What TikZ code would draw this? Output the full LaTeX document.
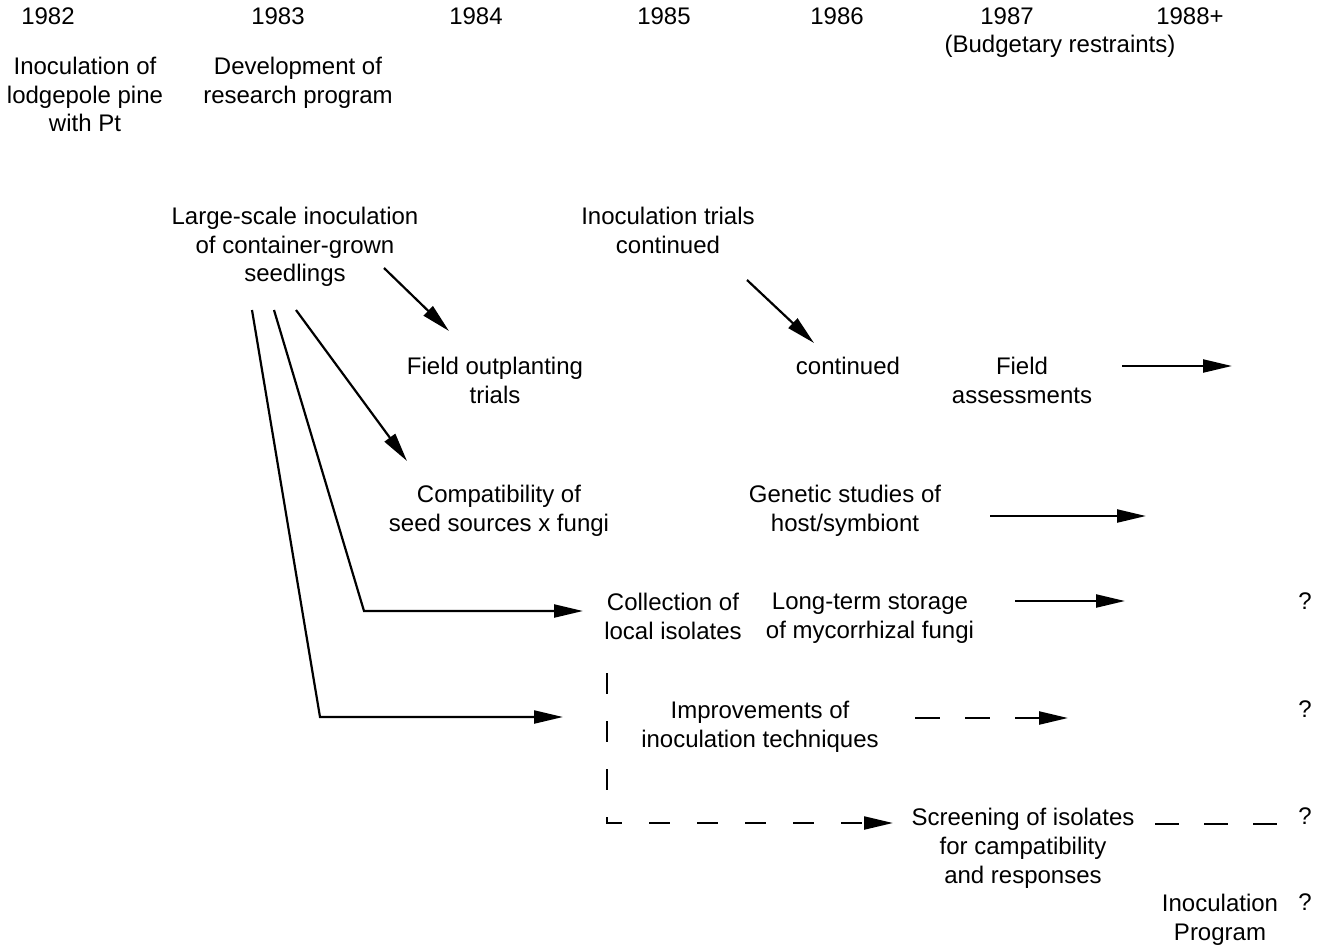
\documentclass[tikz,border=0pt]{standalone}
\usepackage{fontspec}
\setmainfont{Liberation Sans}
\usetikzlibrary{arrows.meta}
\tikzset{
  lbl/.style={anchor=north, align=center, inner sep=0pt, font=\fontsize{24}{28.7}\selectfont},
  arr/.style={line width=2.2pt, -{Triangle[length=29pt,width=13pt]}},
  seg/.style={line width=2.2pt},
  darr/.style={arr, dash pattern=on 25pt off 25pt},
}
\begin{document}
\begin{tikzpicture}[x=1pt,y=-1pt]
\useasboundingbox (0,0) rectangle (1323,946);
% years
\node[lbl] (y82) at (48,8) {1982};
\node[lbl] (y83) at (278,8) {1983};
\node[lbl] (y84) at (476,8) {1984};
\node[lbl] (y85) at (664,8) {1985};
\node[lbl] (y86) at (837,8) {1986};
\node[lbl] (y87) at (1007,8) {1987};
\node[lbl] (y88) at (1190,8) {1988+};
\node[lbl] (bud) at (1060,35) {(Budgetary restraints)};
% texts
\node[lbl] (inoc) at (85,57) {Inoculation of\\lodgepole pine\\with Pt};
\node[lbl] (dev) at (298,57) {Development of\\research program};
\node[lbl] (large) at (295,207) {Large-scale inoculation\\of container-grown\\seedlings};
\node[lbl] (trials) at (668,207) {Inoculation trials\\continued};
\node[lbl] (field) at (495,357) {Field outplanting\\trials};
\node[lbl] (cont) at (848,357) {continued};
\node[lbl] (fassess) at (1022,357) {Field\\assessments};
\node[lbl] (compat) at (499,485) {Compatibility of\\seed sources x fungi};
\node[lbl] (genetic) at (845,485) {Genetic studies of\\host/symbiont};
\node[lbl] (collect) at (673,593) {Collection of\\local isolates};
\node[lbl] (storage) at (870,593) {Long-term storage\\of mycorrhizal fungi};
\node[lbl] (improve) at (760,701) {Improvements of\\inoculation techniques};
\node[lbl] (screen) at (1023,808) {Screening of isolates\\for campatibility\\and responses};
\node[lbl] (program) at (1220,894) {Inoculation\\Program};
\node[lbl] (q1) at (1305,593) {?};
\node[lbl] (q2) at (1305,701) {?};
\node[lbl] (q3) at (1305,808) {?};
\node[lbl] (q4) at (1305,894) {?};
% coordinates
\coordinate (a1s) at (384,268);
\coordinate (a1e) at (449,331);
\coordinate (a2s) at (747,280);
\coordinate (a2e) at (814,343);
\coordinate (a3s) at (1122,366);
\coordinate (a3e) at (1232,366);
\coordinate (a4s) at (990,516);
\coordinate (a4e) at (1146,516);
\coordinate (a5s) at (1015,601);
\coordinate (a5e) at (1125,601);
\coordinate (a6s) at (915,718);
\coordinate (a6e) at (1068,718);
\coordinate (l3s) at (296,310);
\coordinate (l3e) at (407,461);
\coordinate (l2s) at (274,310);
\coordinate (l2c) at (364,611);
\coordinate (l2e) at (583,611);
\coordinate (l1s) at (252,310);
\coordinate (l1c) at (320,717);
\coordinate (l1e) at (563,717);
\coordinate (ds) at (607,673);
\coordinate (dc) at (607,823);
\coordinate (de) at (893,823);
\coordinate (s1) at (1155,824);
\coordinate (s2) at (1278,824);
% connectors
\draw[arr] (a1s) -- (a1e);
\draw[arr] (a2s) -- (a2e);
\draw[arr] (a3s) -- (a3e);
\draw[arr] (a4s) -- (a4e);
\draw[arr] (a5s) -- (a5e);
\draw[darr] (a6s) -- (a6e);
\draw[arr] (l3s) -- (l3e);
\draw[arr] (l2s) -- (l2c) -- (l2e);
\draw[arr] (l1s) -- (l1c) -- (l1e);
\draw[arr, dash pattern=on 21pt off 27pt] (ds) -- (dc) -- (de);
\draw[seg, dash pattern=on 24pt off 25pt] (s1) -- (s2);
\end{tikzpicture}
\end{document}
